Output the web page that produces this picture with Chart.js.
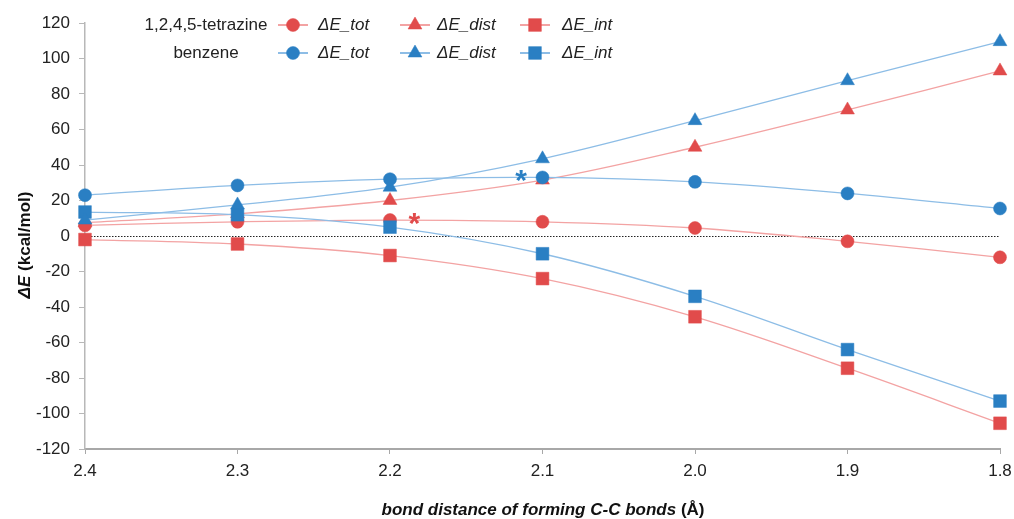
<!DOCTYPE html>
<html>
<head>
<meta charset="utf-8">
<script src="https://cdn.jsdelivr.net/npm/chart.js@4.4.1/dist/chart.umd.min.js"></script>
<style>
    html, body { margin: 0; padding: 0; background: #fff; }
    #wrap { width: 1014px; height: 519px; }
</style>
</head>
<body>
<div id="wrap"><canvas id="energyChart"></canvas></div>
<script>
// bond distance (Å), x axis runs from 2.4 down to 1.8
const distances = [2.4, 2.3, 2.2, 2.1, 2.0, 1.9, 1.8];
const xTicks = [2.4, 2.3, 2.2, 2.1, 2.0, 1.9, 1.8];

// 1,2,4,5-tetrazine (kcal/mol)
const tetrazineTot  = [6, 8, 9, 8, 4.5, -3, -12];
const tetrazineDist = [7.5, 12.5, 20, 31.5, 50, 71, 93];
const tetrazineInt  = [-2, -4.5, -11, -24, -45.5, -74.5, -105.5];

// benzene (kcal/mol)
const benzeneTot  = [23, 28.5, 32, 33, 30.5, 24, 15.5];
const benzeneDist = [9, 17.5, 27.5, 43.5, 65, 87.5, 109.5];
const benzeneInt  = [13.5, 12, 5, -10, -34, -64, -93];

// transition state asterisks: [tetrazine, benzene]
const tsX = [2.184, 2.114];
const tsY = [10.5, 34.5];

const seriesNames = ['ΔE_tot', 'ΔE_dist', 'ΔE_int'];
const groupNames = ['1,2,4,5-tetrazine', 'benzene'];

const RED = '#e14b4b', RED_LINE = '#f3a3a3';
const BLUE = '#2a7fc3', BLUE_LINE = '#8dbde6';
const FONT = '"Liberation Sans", Arial, sans-serif';
const shapes = ['circle', 'triangle', 'rect'];
const radii = [6.5, 8, 9];

function pts(values) {
    return values.map((v, i) => ({ x: distances[i], y: v }));
}

function makeSet(label, values, k, marker, line, order) {
    return {
        label: label,
        data: pts(values),
        borderColor: line,
        backgroundColor: marker,
        borderWidth: 1.3,
        pointStyle: shapes[k],
        pointRadius: radii[k],
        pointHoverRadius: radii[k],
        pointBackgroundColor: marker,
        pointBorderColor: marker,
        pointBorderWidth: 0.5,
        tension: 0.35,
        fill: false,
        clip: false,
        order: order
    };
}

const redSets = [tetrazineTot, tetrazineDist, tetrazineInt];
const blueSets = [benzeneTot, benzeneDist, benzeneInt];

const datasets = [];
redSets.forEach((vals, k) => datasets.push(makeSet('tetrazine ' + seriesNames[k], vals, k, RED, RED_LINE, 2)));
blueSets.forEach((vals, k) => datasets.push(makeSet('benzene ' + seriesNames[k], vals, k, BLUE, BLUE_LINE, 1)));

// zero line, asterisks, legend and axis titles
const extras = {
    id: 'extras',
    beforeDatasetsDraw(chart) {
        const { ctx, chartArea, scales } = chart;
        const y0 = scales.y.getPixelForValue(0);
        ctx.save();
        ctx.strokeStyle = '#222';
        ctx.lineWidth = 1;
        ctx.setLineDash([1.5, 1.5]);
        ctx.beginPath();
        ctx.moveTo(chartArea.left, Math.round(y0) + 0.5);
        ctx.lineTo(chartArea.right, Math.round(y0) + 0.5);
        ctx.stroke();
        ctx.restore();
    },
    afterDraw(chart) {
        const { ctx, scales } = chart;
        ctx.save();

        // asterisks
        ctx.font = 'bold 30px ' + FONT;
        ctx.textAlign = 'center';
        ctx.textBaseline = 'middle';
        [RED, BLUE].forEach((c, i) => {
            ctx.fillStyle = c;
            ctx.fillText('*', scales.x.getPixelForValue(tsX[i]), scales.y.getPixelForValue(tsY[i]) + 7);
        });

        // legend
        const rowY = [25, 53];
        const colX = [278, 400, 520];
        const textX = [318, 437, 562];
        ctx.font = '17px ' + FONT;
        ctx.fillStyle = '#222';
        ctx.textAlign = 'center';
        ctx.fillText(groupNames[0], 206, rowY[0]);
        ctx.fillText(groupNames[1], 206, rowY[1]);
        [[RED, RED_LINE], [BLUE, BLUE_LINE]].forEach((cols, r) => {
            for (let k = 0; k < 3; k++) {
                const x = colX[k];
                ctx.strokeStyle = cols[1];
                ctx.lineWidth = 2;
                ctx.beginPath();
                ctx.moveTo(x, rowY[r]);
                ctx.lineTo(x + 30, rowY[r]);
                ctx.stroke();
                ctx.fillStyle = cols[0];
                ctx.strokeStyle = cols[0];
                ctx.lineWidth = 0.5;
                Chart.helpers.drawPoint(ctx, { pointStyle: shapes[k], radius: radii[k], rotation: 0, borderWidth: 0.5 }, x + 15, rowY[r]);
                ctx.fillStyle = '#222';
                ctx.font = 'italic 17px ' + FONT;
                ctx.textAlign = 'left';
                ctx.fillText(seriesNames[k], textX[k], rowY[r]);
                ctx.font = '17px ' + FONT;
                ctx.textAlign = 'center';
            }
        });

        // x axis title
        ctx.fillStyle = '#111';
        ctx.textBaseline = 'middle';
        const p1 = 'bond distance of forming C-C bonds ';
        const p2 = '(Å)';
        ctx.font = 'bold italic 17px ' + FONT;
        const w1 = ctx.measureText(p1).width;
        ctx.font = 'bold 17px ' + FONT;
        const w2 = ctx.measureText(p2).width;
        let sx = 543 - (w1 + w2) / 2;
        ctx.textAlign = 'left';
        ctx.font = 'bold italic 17px ' + FONT;
        ctx.fillText(p1, sx, 510);
        ctx.font = 'bold 17px ' + FONT;
        ctx.fillText(p2, sx + w1, 510);

        // y axis title
        ctx.translate(25, 245);
        ctx.rotate(-Math.PI / 2);
        const q1 = 'ΔE';
        const q2 = ' (kcal/mol)';
        ctx.font = 'bold italic 17px ' + FONT;
        const v1 = ctx.measureText(q1).width;
        ctx.font = 'bold 17px ' + FONT;
        const v2 = ctx.measureText(q2).width;
        sx = -(v1 + v2) / 2;
        ctx.font = 'bold italic 17px ' + FONT;
        ctx.fillText(q1, sx, 0);
        ctx.font = 'bold 17px ' + FONT;
        ctx.fillText(q2, sx + v1, 0);
        ctx.restore();
    }
};

new Chart(document.getElementById('energyChart'), {
    type: 'line',
    data: { datasets: datasets },
    options: {
        responsive: true,
        maintainAspectRatio: false,
        animation: false,
        layout: { padding: { top: 23, right: 14, left: 0, bottom: 0 } },
        plugins: {
            legend: { display: false },
            tooltip: { enabled: false }
        },
        scales: {
            x: {
                type: 'linear',
                reverse: true,
                min: 1.8,
                max: 2.4,
                afterBuildTicks: scale => { scale.ticks = xTicks.map(v => ({ value: v })); },
                afterFit: scale => { scale.height = 70; scale.paddingRight = 0; scale.paddingLeft = 0; },
                ticks: {
                    color: '#222',
                    font: { family: FONT, size: 17 },
                    padding: 7,
                    maxRotation: 0,
                    callback: v => Number(v).toFixed(1)
                },
                grid: { drawOnChartArea: false, drawTicks: true, tickLength: 5, color: '#a8a8a8' },
                border: { color: '#a8a8a8', width: 2 }
            },
            y: {
                min: -120,
                max: 120,
                afterFit: scale => { scale.width = 85; scale.paddingTop = 0; scale.paddingBottom = 0; },
                ticks: {
                    stepSize: 20,
                    color: '#222',
                    font: { family: FONT, size: 17 },
                    padding: 9
                },
                grid: { drawOnChartArea: false, drawTicks: true, tickLength: 6, color: '#b8b8b8' },
                border: { color: '#b8b8b8', width: 1.5 }
            }
        }
    },
    plugins: [extras]
});
</script>
</body>
</html>
